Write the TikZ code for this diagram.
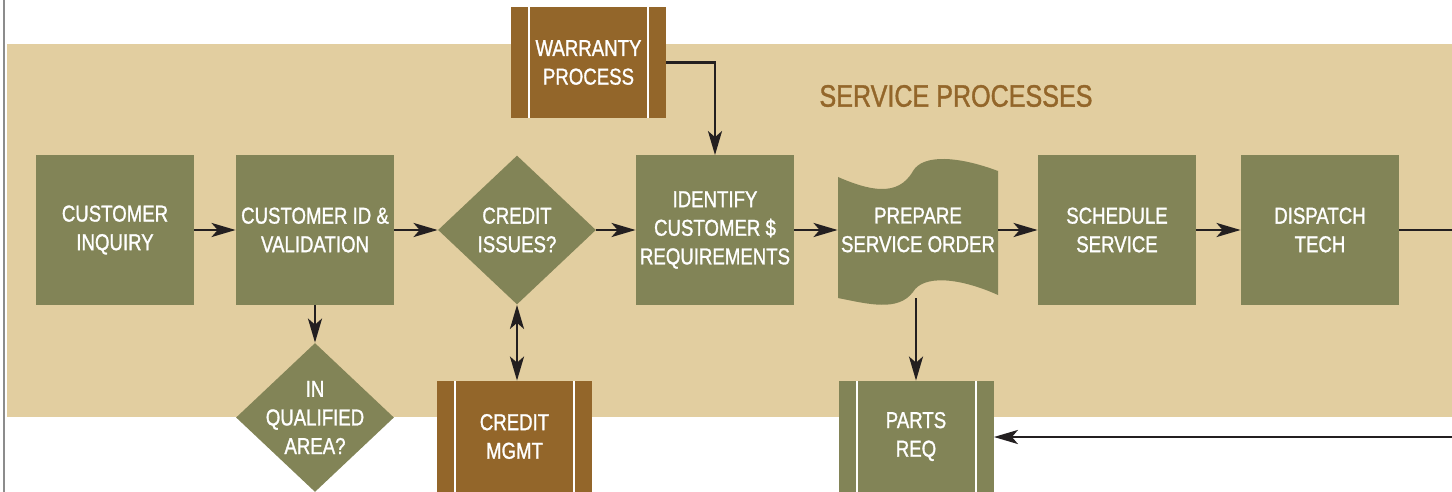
\documentclass[tikz,border=0pt]{standalone}
\usepackage{fontspec}
\setmainfont[FakeStretch=0.81, FakeBold=1.2]{Liberation Sans}
\usetikzlibrary{shapes.geometric, arrows.meta}

\definecolor{leaf}{HTML}{828457}
\definecolor{sand}{HTML}{E2CEA0}
\definecolor{bark}{HTML}{93662A}
\definecolor{ink}{HTML}{231F20}
\definecolor{rule}{HTML}{8C8C8C}

\newcommand\boxfont{\fontsize{11.5}{14.3}\selectfont}
\newcommand\headfont{\fontsize{15.5}{18}\selectfont}

\tikzset{
	flownode/.style = {align=center, inner sep=0pt, text=white, font=\boxfont},
	process/.style = {flownode, rectangle, fill=leaf, minimum width=79pt, minimum height=74.5pt},
	decision/.style = {flownode, diamond, fill=leaf, minimum width=79pt, minimum height=74.5pt},
	subproc/.style = {flownode, rectangle, fill=#1, minimum width=77.5pt, minimum height=55.5pt,
		path picture={
			\draw[white, line width=1pt]
				([xshift=9pt]path picture bounding box.north west) -- ([xshift=9pt]path picture bounding box.south west)
				([xshift=-9pt]path picture bounding box.north east) -- ([xshift=-9pt]path picture bounding box.south east);
		}},
	% wavy document, drawn inside the node's box from its north west corner
	wavedoc/.style = {flownode, rectangle, minimum width=80pt, minimum height=78pt,
		path picture={
			\coordinate (nw) at (path picture bounding box.north west);
			\fill[leaf] ([yshift=-12.5pt]nw)
				.. controls ([xshift=15pt,yshift=-19pt]nw) and ([xshift=30pt,yshift=-23pt]nw) .. ([xshift=37.5pt,yshift=-9.5pt]nw)
				.. controls ([xshift=42.5pt,yshift=-1pt]nw) and ([xshift=60pt,yshift=-2pt]nw) .. ([xshift=80pt,yshift=-9.5pt]nw)
				-- ([xshift=80pt,yshift=-71.5pt]nw)
				.. controls ([xshift=60pt,yshift=-62.5pt]nw) and ([xshift=42.5pt,yshift=-61.5pt]nw) .. ([xshift=37.5pt,yshift=-70pt]nw)
				.. controls ([xshift=30pt,yshift=-80pt]nw) and ([xshift=15pt,yshift=-76pt]nw) .. ([yshift=-73pt]nw)
				-- cycle;
		}},
	title/.style = {inner sep=0pt, text=bark, font=\headfont},
	flow/.style = {draw=ink, line width=1.25pt, -{Stealth[length=12pt, width=7pt, inset=3pt]}},
	twoway/.style = {flow, {Stealth[length=12pt, width=7pt, inset=3pt]}-{Stealth[length=12pt, width=7pt, inset=3pt]}},
	plain/.style = {draw=ink, line width=1.25pt}
}

\begin{document}
\begin{tikzpicture}[x=0.5pt, y=-0.5pt]
	\useasboundingbox (0,0) rectangle (1452,492);
	% service band and page rule
	\fill[sand] (7,44) rectangle (1452,417);
	\draw[rule, line width=1pt] (4,0) -- (4,492);

	\node [title] (head) at (956,96) {SERVICE PROCESSES};

	% main row
	\node [process] (inquiry) at (115,230) {CUSTOMER\\INQUIRY};
	\node [process] (idval) at (315,230) {CUSTOMER ID \&\\VALIDATION};
	\node [decision, label={[flownode]center:CREDIT\\ISSUES?}] (credit) at (517,230) {};
	\node [process] (ident) at (715,230) {IDENTIFY\\CUSTOMER \$\\REQUIREMENTS};
	\node [wavedoc] (order) at (918,230) {PREPARE\\SERVICE ORDER};
	\node [process] (sched) at (1117,230) {SCHEDULE\\SERVICE};
	\node [process] (dispatch) at (1320,230) {DISPATCH\\TECH};

	% side processes
	\node [subproc=bark] (warranty) at (588.5,62.5) {WARRANTY\\PROCESS};
	\node [decision, label={[flownode]center:IN\\QUALIFIED\\AREA?}] (area) at (315,417.5) {};
	\node [subproc=bark] (creditmgmt) at (514.5,436.5) {CREDIT\\MGMT};
	\node [subproc=leaf] (parts) at (916,436.5) {PARTS\\REQ};

	\coordinate (out) at (1452,230);
	\coordinate (back) at (1452,437);

	\draw [flow] (inquiry) -- (idval);
	\draw [flow] (idval) -- (credit);
	\draw [flow] (credit) -- (ident);
	\draw [flow] (ident) -- (order);
	\draw [flow] (order) -- (sched);
	\draw [flow] (sched) -- (dispatch);
	\draw [plain] (dispatch) -- (out);
	\draw [flow] (warranty.east) -| (ident.north);
	\draw [flow] (idval.south) -- (area.north);
	\draw [twoway] (credit.south) -- (credit.south |- creditmgmt.north);
	\draw [flow] ([yshift=5pt]parts.north |- order.south) -- (parts.north);
	\draw [flow] (back) -- (parts.east |- back);
\end{tikzpicture}
\end{document}
